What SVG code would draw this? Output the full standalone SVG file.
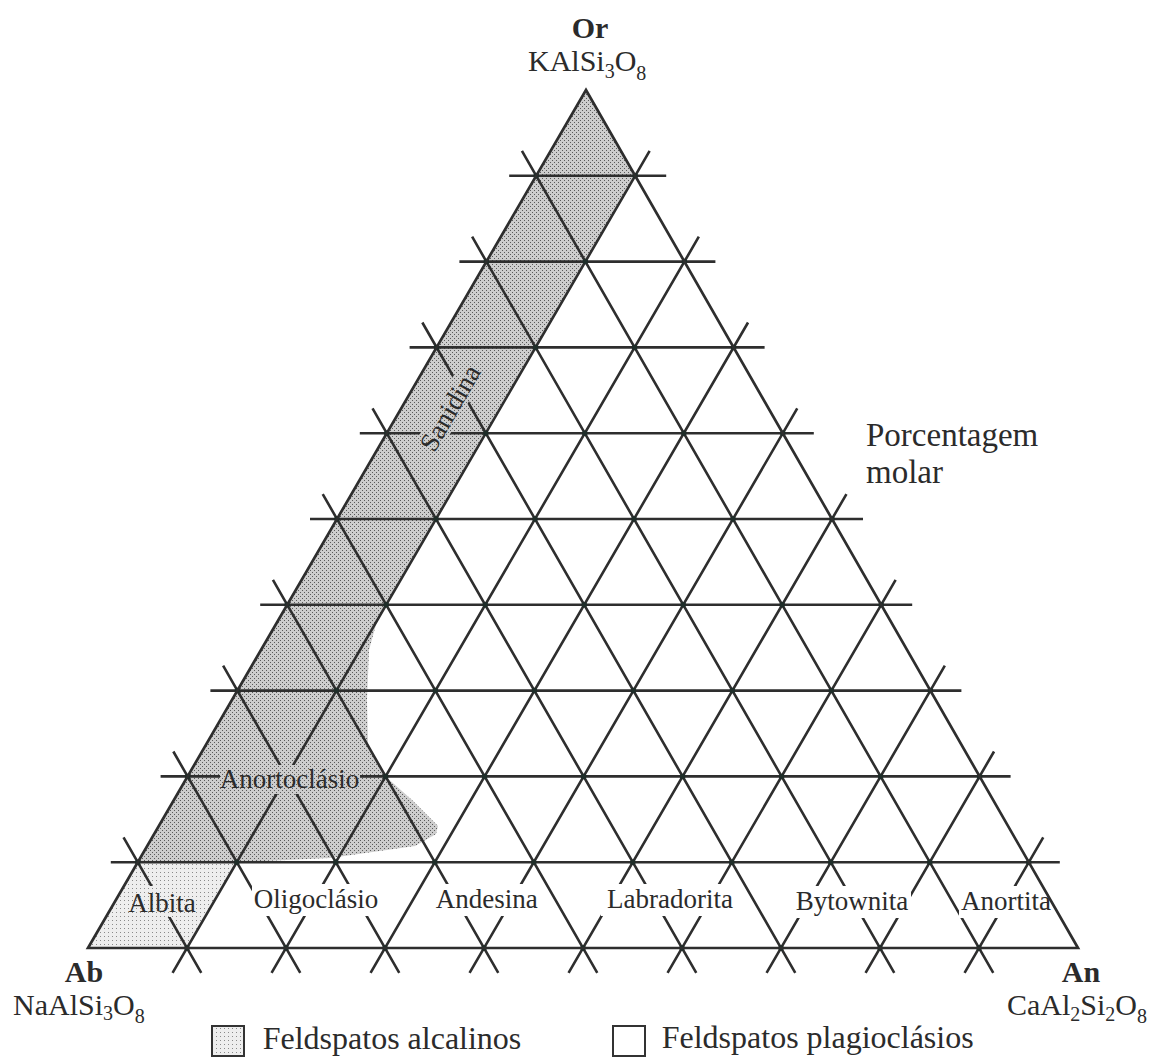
<svg xmlns="http://www.w3.org/2000/svg" width="1163" height="1057" viewBox="0 0 1163 1057">
  <defs>
    <!-- halftone screens for the alkali-feldspar field -->
    <pattern id="screen" width="4" height="4" patternUnits="userSpaceOnUse">
      <rect width="4" height="4" fill="#cdcdcd"/>
      <rect x="0" y="0" width="1" height="1" fill="#5a5a5a"/>
      <rect x="2" y="2" width="1" height="1" fill="#5a5a5a"/>
    </pattern>
    <pattern id="screenLight" width="4" height="4" patternUnits="userSpaceOnUse">
      <rect width="4" height="4" fill="#eeeeee"/>
      <rect x="0" y="0" width="1" height="1" fill="#8a8a8a"/>
    </pattern>
    <style>
      .grid { fill: none; stroke: #2e2e2e; stroke-width: 2.6; stroke-linecap: butt; }
      .edge { fill: none; stroke: #2e2e2e; stroke-width: 2.7; stroke-linejoin: miter; }
      .knot { fill: none; stroke: #1f2d29; stroke-width: 5.5; stroke-linecap: round; }
      .lbl { font-family: "Liberation Serif", "Times New Roman", serif; fill: #2b2b2b; }
      .field { font-size: 27px; text-anchor: middle; }
      .end { font-size: 30px; }
      .endB { font-size: 30px; font-weight: bold; }
      .sub { font-size: 20px; }
      .big { font-size: 33px; }
      .legend { font-size: 32px; }
      .mask { fill: #ffffff; }
      .maskS { fill: url(#screen); }
      .maskL { fill: url(#screenLight); }
      .box { stroke: #333; stroke-width: 2; }
    </style>
  </defs>

  <rect width="1163" height="1057" fill="#ffffff"/>

  <!-- shaded field: Or apex band, anorthoclase zone and albite corner -->
  <g id="alkali-field">
    <polygon fill="url(#screen)" points="586,90 635.2,175.8 386.2,604.8 377,621 369,650 367,700 368,744 385.6,776.4 412,800 438,826 436,834 415,846 330,858 236.8,862.2 137.8,862.2"/>
    <polygon fill="url(#screenLight)" points="88,948 137.8,862.2 236.8,862.2 187,948"/>
  </g>

  <!-- 10% grid lines of the ternary diagram -->
  <g id="connectors">
    <path class="grid" d="M110.8 862.2H1059.8M160.6 776.4H1010.6M210.4 690.6H961.4M260.2 604.8H912.2M310 519H863M359.8 433.2H813.8M409.6 347.4H764.6M459.4 261.6H715.4M509.2 175.8H666.2"/>
    <path class="grid" d="M172.56 972.9L649.64 150.9M271.56 972.9L698.84 236.7M370.56 972.9L748.04 322.5M469.56 972.9L797.24 408.3M568.56 972.9L846.44 494.1M667.56 972.9L895.64 579.9M766.56 972.9L944.84 665.7M865.56 972.9L994.04 751.5M964.56 972.9L1043.24 837.3"/>
    <path class="grid" d="M201.27 972.9L123.53 837.3M300.27 972.9L173.33 751.5M399.27 972.9L223.13 665.7M498.27 972.9L272.93 579.9M597.27 972.9L322.73 494.1M696.27 972.9L372.53 408.3M795.27 972.9L422.33 322.5M894.27 972.9L472.13 236.7M993.27 972.9L521.93 150.9"/>
    <path class="knot" d="M187 948h0m99 0h0m99 0h0m99 0h0m99 0h0m99 0h0m99 0h0m99 0h0m99 0h0
      M137.8 862.2h0m99 0h0m99 0h0m99 0h0m99 0h0m99 0h0m99 0h0m99 0h0m99 0h0m99 0h0
      M187.6 776.4h0m99 0h0m99 0h0m99 0h0m99 0h0m99 0h0m99 0h0m99 0h0m99 0h0
      M237.4 690.6h0m99 0h0m99 0h0m99 0h0m99 0h0m99 0h0m99 0h0m99 0h0
      M287.2 604.8h0m99 0h0m99 0h0m99 0h0m99 0h0m99 0h0m99 0h0
      M337 519h0m99 0h0m99 0h0m99 0h0m99 0h0m99 0h0
      M386.8 433.2h0m99 0h0m99 0h0m99 0h0m99 0h0
      M436.6 347.4h0m99 0h0m99 0h0m99 0h0
      M486.4 261.6h0m99 0h0m99 0h0
      M536.2 175.8h0m99 0h0"/>
  </g>

  <!-- field names; each sits on a backing that interrupts the grid -->
  <g id="sanidina">
    <polygon class="maskS" points="486.3,371.2 463.7,358.2 413.7,444.8 436.3,457.8"/>
    <text class="lbl field" transform="translate(450 408) rotate(-60)" x="0" y="9">Sanidina</text>
  </g>
  <g id="anortoclasio">
    <rect class="maskS" x="220" y="765" width="140" height="29"/>
    <text class="lbl field" x="289.5" y="788">Anortoclásio</text>
  </g>
  <g id="albita">
    <rect class="maskL" x="125" y="886" width="74" height="31"/>
    <text class="lbl field" x="162" y="912">Albita</text>
  </g>
  <g id="oligoclasio">
    <rect class="mask" x="252" y="884" width="128" height="32"/>
    <text class="lbl field" x="316" y="908">Oligoclásio</text>
  </g>
  <g id="andesina">
    <rect class="mask" x="433" y="884" width="107" height="32"/>
    <text class="lbl field" x="486.7" y="908">Andesina</text>
  </g>
  <g id="labradorita">
    <rect class="mask" x="601" y="884" width="138" height="32"/>
    <text class="lbl field" x="670" y="908">Labradorita</text>
  </g>
  <g id="bytownita">
    <rect class="mask" x="793" y="886" width="118" height="32"/>
    <text class="lbl field" x="852" y="910">Bytownita</text>
  </g>
  <g id="anortita">
    <rect class="mask" x="959" y="886" width="92" height="32"/>
    <text class="lbl field" x="1006" y="910">Anortita</text>
  </g>

  <!-- triangle outline Ab - An - Or -->
  <g id="outline">
    <path class="edge" d="M88 948L1078 948L586 90Z"/>
  </g>

  <!-- end members -->
  <g id="or">
    <text class="lbl endB" x="590" y="38" text-anchor="middle">Or</text>
    <text class="lbl end" x="528" y="71">KAlSi<tspan class="sub" dy="7">3</tspan><tspan dy="-7">O</tspan><tspan class="sub" dy="9">8</tspan></text>
  </g>
  <g id="ab">
    <text class="lbl endB" x="84" y="982" text-anchor="middle">Ab</text>
    <text class="lbl end" x="13" y="1015">NaAlSi<tspan class="sub" dy="5">3</tspan><tspan dy="-5">O</tspan><tspan class="sub" dy="8">8</tspan></text>
  </g>
  <g id="an">
    <text class="lbl endB" x="1081" y="982" text-anchor="middle">An</text>
    <text class="lbl end" x="1007" y="1015">CaAl<tspan class="sub" dy="6">2</tspan><tspan dy="-6">Si</tspan><tspan class="sub" dy="6">2</tspan><tspan dy="-6">O</tspan><tspan class="sub" dy="8">8</tspan></text>
  </g>

  <g id="unit-note">
    <text class="lbl big" x="866" y="446">Porcentagem</text>
    <text class="lbl big" x="866" y="483">molar</text>
  </g>

  <!-- legend -->
  <g id="legend-alkali">
    <rect class="box" x="212" y="1026" width="32" height="30" fill="url(#screenLight)"/>
    <text class="lbl legend" x="262.7" y="1049">Feldspatos alcalinos</text>
  </g>
  <g id="legend-plagio">
    <rect class="box" x="613" y="1026" width="32" height="30" fill="#ffffff"/>
    <text class="lbl legend" x="661.7" y="1048">Feldspatos plagioclásios</text>
  </g>
</svg>
